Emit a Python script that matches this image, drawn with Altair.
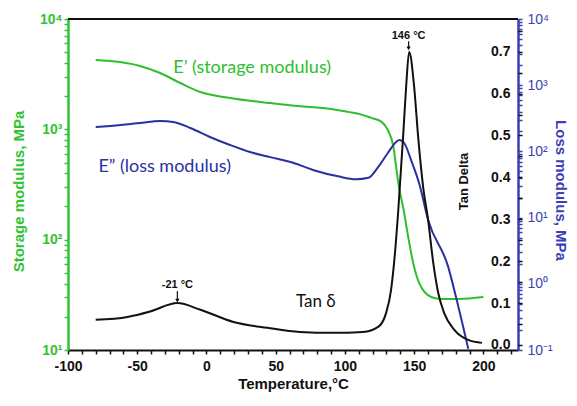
import altair as alt
import pandas as pd

# ---- data ----
sm_temp = [-80, -62.5, -48, -33.5, -19, -4.5, 17, 46, 66, 90, 102, 112, 119, 126, 131, 135, 137, 139, 142, 145.7, 149.3, 153.6, 162.3, 169.6, 182, 200]
sm_val = [4250, 4070, 3750, 3240, 2630, 2180, 1920, 1730, 1625, 1530, 1440, 1360, 1270, 1180, 986, 693, 456, 300, 198, 106, 61.4, 40.5, 30.2, 29, 29, 30.2]

lm_temp = [-80, -62, -48, -33.5, -24, -11.7, 2.5, 17, 31.4, 46, 62, 77.5, 95, 108, 117, 124, 131, 137, 139.5, 142.8, 147.8, 153.6, 160.1, 174.6, 180.4, 189.1]
lm_val = [234, 251, 269, 288, 278, 226, 165, 125, 98, 82, 68, 52, 42, 38, 40, 58, 94.6, 139, 149, 134, 74, 33, 9.2, 1.8, 0.61, 0.104]

td_temp = [-80, -57, -40.6, -21, -4.3, 19.5, 44, 67.5, 91, 113, 124, 129.7, 133.3, 135.5, 138.4, 142, 144.2, 146.4, 150, 152.9, 156.5, 160.1, 163.8, 167.4, 171.7, 179, 189, 199]
td_val = [0.060, 0.067, 0.080, 0.100, 0.084, 0.055, 0.041, 0.031, 0.029, 0.031, 0.043, 0.076, 0.131, 0.196, 0.315, 0.496, 0.616, 0.700, 0.616, 0.496, 0.377, 0.298, 0.196, 0.124, 0.076, 0.036, 0.012, 0.005]

x_ticks = list(range(-100, 230, 10))
td_ticks = [0.0, 0.05, 0.1, 0.15, 0.2, 0.25, 0.3, 0.35, 0.4, 0.45, 0.5, 0.55, 0.6, 0.65, 0.7, 0.75]

GREEN = "#2EBE2E"
GREEN_AX = "#33C233"
BLUE = "#2B30A0"
BLUE_AX = "#3B3FB5"
BLACK = "#111111"
W, H = 450, 331
FONT = "Liberation Sans"
TFONT = "Lato"


def minor_log(lo, hi):
    vals = []
    for d in range(lo, hi):
        for k in range(1, 10):
            vals.append(round(k * 10.0 ** d, 6))
    vals.append(10.0 ** hi)
    return vals


log_major = "abs(log(datum.value)/LN10 - round(log(datum.value)/LN10)) < 0.000001"
sup = ("(" + log_major + ") ? '10' + (round(log(datum.value)/LN10) < 0 ? '\u207b' : '') + "
       "['\u2070','\u00b9','\u00b2','\u00b3','\u2074'][abs(round(log(datum.value)/LN10))] : ''")
td_is_major = "abs(datum.value*10 - round(datum.value*10)) < 0.001"

sm_df = pd.DataFrame({"T": sm_temp, "v": sm_val})
lm_df = pd.DataFrame({"T": lm_temp, "v": lm_val})
td_df = pd.DataFrame({"T": td_temp, "v": td_val})

# ---- shared x ----
xscale = alt.Scale(domain=[-100, 225], nice=False, zero=False)
xaxis = alt.Axis(
    values=x_ticks,
    labelExpr="datum.value % 50 === 0 ? '' + datum.value : ''",
    labelFlush=False,
    tickSize=4, tickColor=BLACK, tickWidth=1.5,
    domainColor=BLACK, domainWidth=2,
    labelFont=FONT, labelFontSize=14, labelFontWeight="bold", labelColor=BLACK,
    labelPadding=5, grid=False,
    title="Temperature,\u00b0C", titleFont=FONT, titleFontSize=15, titleFontWeight="bold",
    titleColor=BLACK, titleX=225, titleY=26, titleBaseline="top",
)
X = alt.X("T:Q", scale=xscale, axis=xaxis)

# ---- storage modulus ----
sm_scale = alt.Scale(type="log", domain=[10, 10000], nice=False)
sm_axis = alt.Axis(
    orient="left", values=minor_log(1, 4), labelExpr=sup,
    tickSize=4, tickColor=GREEN_AX, tickWidth=1.5,
    domainColor=GREEN_AX, domainWidth=2.5, grid=False,
    labelFont=FONT, labelFontSize=14, labelFontWeight="bold", labelColor=GREEN_AX, labelPadding=2,
    title="Storage modulus, MPa", titleFont=FONT, titleFontSize=15, titleFontWeight="bold",
    titleColor=GREEN_AX, titleAngle=-90, titleX=-50, titleY=172, titleBaseline="middle",
)
sm_line = alt.Chart(sm_df).mark_line(color=GREEN, strokeWidth=2, interpolate="monotone").encode(
    x=X, y=alt.Y("v:Q", scale=sm_scale, axis=sm_axis),
)
sm_text = alt.Chart(pd.DataFrame({"T": [-24], "v": [3600], "t": ["E\u2019 (storage modulus)"]})).mark_text(
    color=GREEN, font=TFONT, fontSize=18, align="left", baseline="middle"
).encode(x=X, y=alt.Y("v:Q", scale=sm_scale, axis=sm_axis), text="t:N")
sm_layer = alt.layer(sm_line, sm_text)

# ---- loss modulus ----
lm_scale = alt.Scale(type="log", domain=[0.1, 10000], nice=False)
lm_axis = alt.Axis(
    orient="right", values=minor_log(-1, 4), labelExpr=sup,
    tickSize=4, tickColor=BLUE_AX, tickWidth=1.5,
    domainColor=BLUE_AX, domainWidth=2.5, grid=False,
    labelFont=FONT, labelFontSize=14, labelColor=BLUE_AX, labelPadding=5,
    title="Loss modulus, MPa", titleFont=FONT, titleFontSize=15, titleFontWeight="bold",
    titleColor=BLUE_AX, titleAngle=90, titleX=42, titleY=171, titleBaseline="middle",
)
lm_line = alt.Chart(lm_df).mark_line(color=BLUE, strokeWidth=2, interpolate="monotone").encode(
    x=X, y=alt.Y("v:Q", scale=lm_scale, axis=lm_axis),
)
lm_text = alt.Chart(pd.DataFrame({"T": [-78], "v": [58], "t": ["E\u201d (loss modulus)"]})).mark_text(
    color=BLUE, font=TFONT, fontSize=18, align="left", baseline="middle"
).encode(x=X, y=alt.Y("v:Q", scale=lm_scale, axis=lm_axis), text="t:N")
lm_layer = alt.layer(lm_line, lm_text)

# ---- tan delta (labels drawn just inside the right edge) ----
td_scale = alt.Scale(domain=[-0.012, 0.778], nice=False, zero=False)
td_axis = alt.Axis(
    orient="right", values=td_ticks,
    labelExpr=td_is_major + " ? format(datum.value, '.1f') : ''",
    tickSize=4, tickColor=BLACK, tickWidth=1.5, domain=False, grid=False,
    labelAlign="right", labelPadding=-12,
    labelFont=FONT, labelFontSize=14, labelFontWeight="bold", labelColor=BLACK,
    title="Tan Delta", titleFont=FONT, titleFontSize=13, titleFontWeight="bold", titleColor=BLACK,
    titleAngle=-90, titleX=-55, titleY=162, titleBaseline="middle",
)
TY = alt.Y("v:Q", scale=td_scale, axis=td_axis)
td_line = alt.Chart(td_df).mark_line(color=BLACK, strokeWidth=2, interpolate="monotone").encode(x=X, y=TY)
ann_df = pd.DataFrame({"T": [146, -21], "v": [0.737, 0.143], "t": ["146 \u00b0C", "-21 \u00b0C"]})
td_ann = alt.Chart(ann_df).mark_text(color=BLACK, font=FONT, fontSize=11, fontWeight="bold", baseline="middle").encode(
    x=X, y=TY, text="t:N"
)
arrow_df = pd.DataFrame({"T": [146, -21], "v": [0.725, 0.128], "v2": [0.708, 0.106]})
td_arrow = alt.Chart(arrow_df).mark_rule(color=BLACK, strokeWidth=1.2).encode(x=X, y=TY, y2="v2:Q")
td_head = alt.Chart(arrow_df).mark_point(shape="triangle-down", filled=True, color=BLACK, size=18, opacity=1).encode(
    x=X, y=alt.Y("v2:Q", scale=td_scale, axis=td_axis)
)
tan_lbl = alt.Chart(pd.DataFrame({"T": [79], "v": [0.103], "t": ["Tan \u03b4"]})).mark_text(
    color=BLACK, font=TFONT, fontSize=17, baseline="middle"
).encode(x=X, y=TY, text="t:N")
td_layer = alt.layer(td_line, td_ann, td_arrow, td_head, tan_lbl)

top_rule = alt.Chart(pd.DataFrame({"a": [0]})).mark_rule(color=BLACK, strokeWidth=2).encode(
    x=alt.value(0), x2=alt.value(W), y=alt.value(0)
)

chart = alt.layer(sm_layer, lm_layer, td_layer, top_rule).resolve_scale(y="independent").properties(
    width=W, height=H,
    autosize=alt.AutoSizeParams(type="none"),
    padding={"left": 60, "top": 11, "right": 51, "bottom": 48},
    background="white",
).configure_view(stroke=None)

chart.save("out.html", embed_options={"renderer": "svg", "actions": False})
